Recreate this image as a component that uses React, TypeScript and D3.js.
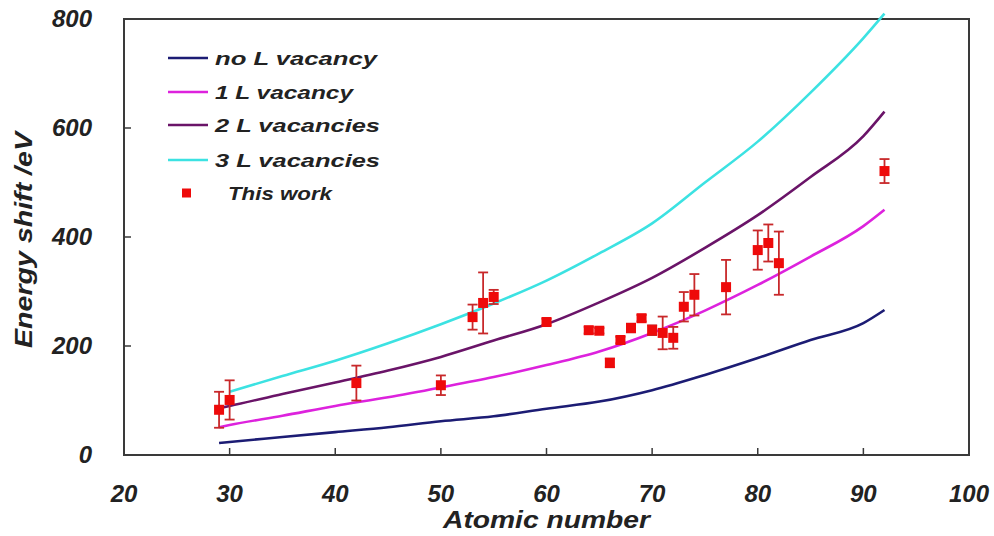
import React from "react";
import * as d3 from "d3";

const zGrid = [29, 30, 35, 40, 45, 50, 55, 60, 65, 70, 75, 80, 85, 90, 92];
const noL = [22, 24, 33, 42, 51, 62, 71, 85, 98, 119, 147, 178, 211, 242, 266];
const oneL = [51, 55, 72, 90, 106, 124, 143, 165, 190, 224, 265, 312, 364, 420, 450];
const twoL = [86, 90, 112, 133, 155, 180, 210, 240, 280, 325, 380, 440, 510, 585, 630];
const threeL = [null, 116, 145, 173, 205, 240, 278, 320, 370, 425, 500, 575, 665, 765, 810];

const ptZ = [29, 30, 42, 50, 53, 54, 55, 60, 64, 65, 66, 67, 68, 69, 70, 71, 72, 73, 74, 77, 80, 81, 82, 92];
const ptE = [83, 101, 132, 128, 253, 279, 290, 244, 229, 228, 169, 211, 233, 251, 229, 224, 215, 272, 294, 308, 376, 389, 352, 521];
const ptErr = [33, 36, 32, 18, 23, 56, 13, 6, 6, 5, 8, 6, 8, 6, 9, 30, 20, 27, 38, 50, 36, 34, 58, 22];

const xTicks = [20, 30, 40, 50, 60, 70, 80, 90, 100];
const yTicks = [0, 200, 400, 600, 800];

const seriesNames = ["no L vacancy", "1 L vacancy", "2 L vacancies", "3 L vacancies"];
const seriesColors = ["#1c1c74", "#dd22dd", "#6a1468", "#3ce2e2"];
const legendWidths = [162, 138, 165, 165];
const pointsName = "This work";

export default function App() {
  const left = 124, right = 969, top = 19, bottom = 455;
  const x = d3.scaleLinear().domain([20, 100]).range([left, right]);
  const y = d3.scaleLinear().domain([0, 800]).range([bottom, top]);
  const series = [noL, oneL, twoL, threeL];
  const line = d3
    .line<number>()
    .defined((d) => d != null)
    .x((_, i) => x(zGrid[i]))
    .y((d) => y(d as number))
    .curve(d3.curveMonotoneX);

  const font = "'Liberation Sans', Arial, sans-serif";
  const legendYs = [58, 92, 125, 160, 193];

  return (
    <svg width={994} height={536} style={{ position: "absolute", left: 0, top: 0, background: "#fff" }}>
      <rect x={0} y={0} width={994} height={536} fill="#fff" />
      {/* frame */}
      <rect x={left} y={top} width={right - left} height={bottom - top} fill="none" stroke="#3a3a3a" strokeWidth={2} />
      {/* ticks */}
      {xTicks.slice(1, -1).map((t) => (
        <line key={"xt" + t} x1={x(t)} x2={x(t)} y1={bottom} y2={bottom - 7} stroke="#3a3a3a" strokeWidth={1.5} />
      ))}
      {yTicks.slice(1, -1).map((t) => (
        <line key={"yt" + t} x1={left} x2={left + 7} y1={y(t)} y2={y(t)} stroke="#3a3a3a" strokeWidth={1.5} />
      ))}
      {/* curves */}
      {series.map((s, i) => (
        <path key={"s" + i} d={line(s as number[]) || ""} fill="none" stroke={seriesColors[i]} strokeWidth={2.6} />
      ))}
      {/* data points */}
      {ptZ.map((z, i) => {
        const cx = x(z);
        const yh = y(ptE[i] + ptErr[i]);
        const yl = y(ptE[i] - ptErr[i]);
        return (
          <g key={"p" + i}>
            <line x1={cx} x2={cx} y1={yh} y2={yl} stroke="#c8282a" strokeWidth={1.8} />
            <line x1={cx - 5} x2={cx + 5} y1={yh} y2={yh} stroke="#c8282a" strokeWidth={1.8} />
            <line x1={cx - 5} x2={cx + 5} y1={yl} y2={yl} stroke="#c8282a" strokeWidth={1.8} />
            <rect x={cx - 5} y={y(ptE[i]) - 5} width={10} height={10} fill="#ee0a0a" />
          </g>
        );
      })}
      {/* tick labels */}
      {xTicks.map((t) => (
        <text key={"xl" + t} x={x(t)} y={502} textAnchor="middle" fontFamily={font} fontWeight="bold" fontStyle="italic" fontSize={24} fill="#222">
          {t}
        </text>
      ))}
      {yTicks.map((t) => (
        <text key={"yl" + t} x={92} y={y(t) + 8} textAnchor="end" fontFamily={font} fontWeight="bold" fontStyle="italic" fontSize={24} fill="#222">
          {t}
        </text>
      ))}
      {/* axis titles */}
      <text x={443} y={528} fontFamily={font} fontWeight="bold" fontStyle="italic" fontSize={23} fill="#222" textLength={207} lengthAdjust="spacingAndGlyphs">
        Atomic number
      </text>
      <text transform="translate(32,348) rotate(-90)" fontFamily={font} fontWeight="bold" fontStyle="italic" fontSize={23} fill="#222" textLength={216} lengthAdjust="spacingAndGlyphs">
        Energy shift /eV
      </text>
      {/* legend */}
      {seriesNames.map((n, i) => (
        <g key={"lg" + i}>
          <line x1={168} x2={208} y1={legendYs[i]} y2={legendYs[i]} stroke={seriesColors[i]} strokeWidth={2.6} />
          <text x={215} y={legendYs[i] + 7} fontFamily={font} fontWeight="bold" fontStyle="italic" fontSize={19} fill="#222" textLength={legendWidths[i]} lengthAdjust="spacingAndGlyphs">
            {n}
          </text>
        </g>
      ))}
      <rect x={182} y={legendYs[4] - 4.5} width={9} height={9} fill="#ee0a0a" />
      <text x={228} y={legendYs[4] + 7} fontFamily={font} fontWeight="bold" fontStyle="italic" fontSize={19} fill="#222" textLength={104} lengthAdjust="spacingAndGlyphs">
        {pointsName}
      </text>
    </svg>
  );
}
